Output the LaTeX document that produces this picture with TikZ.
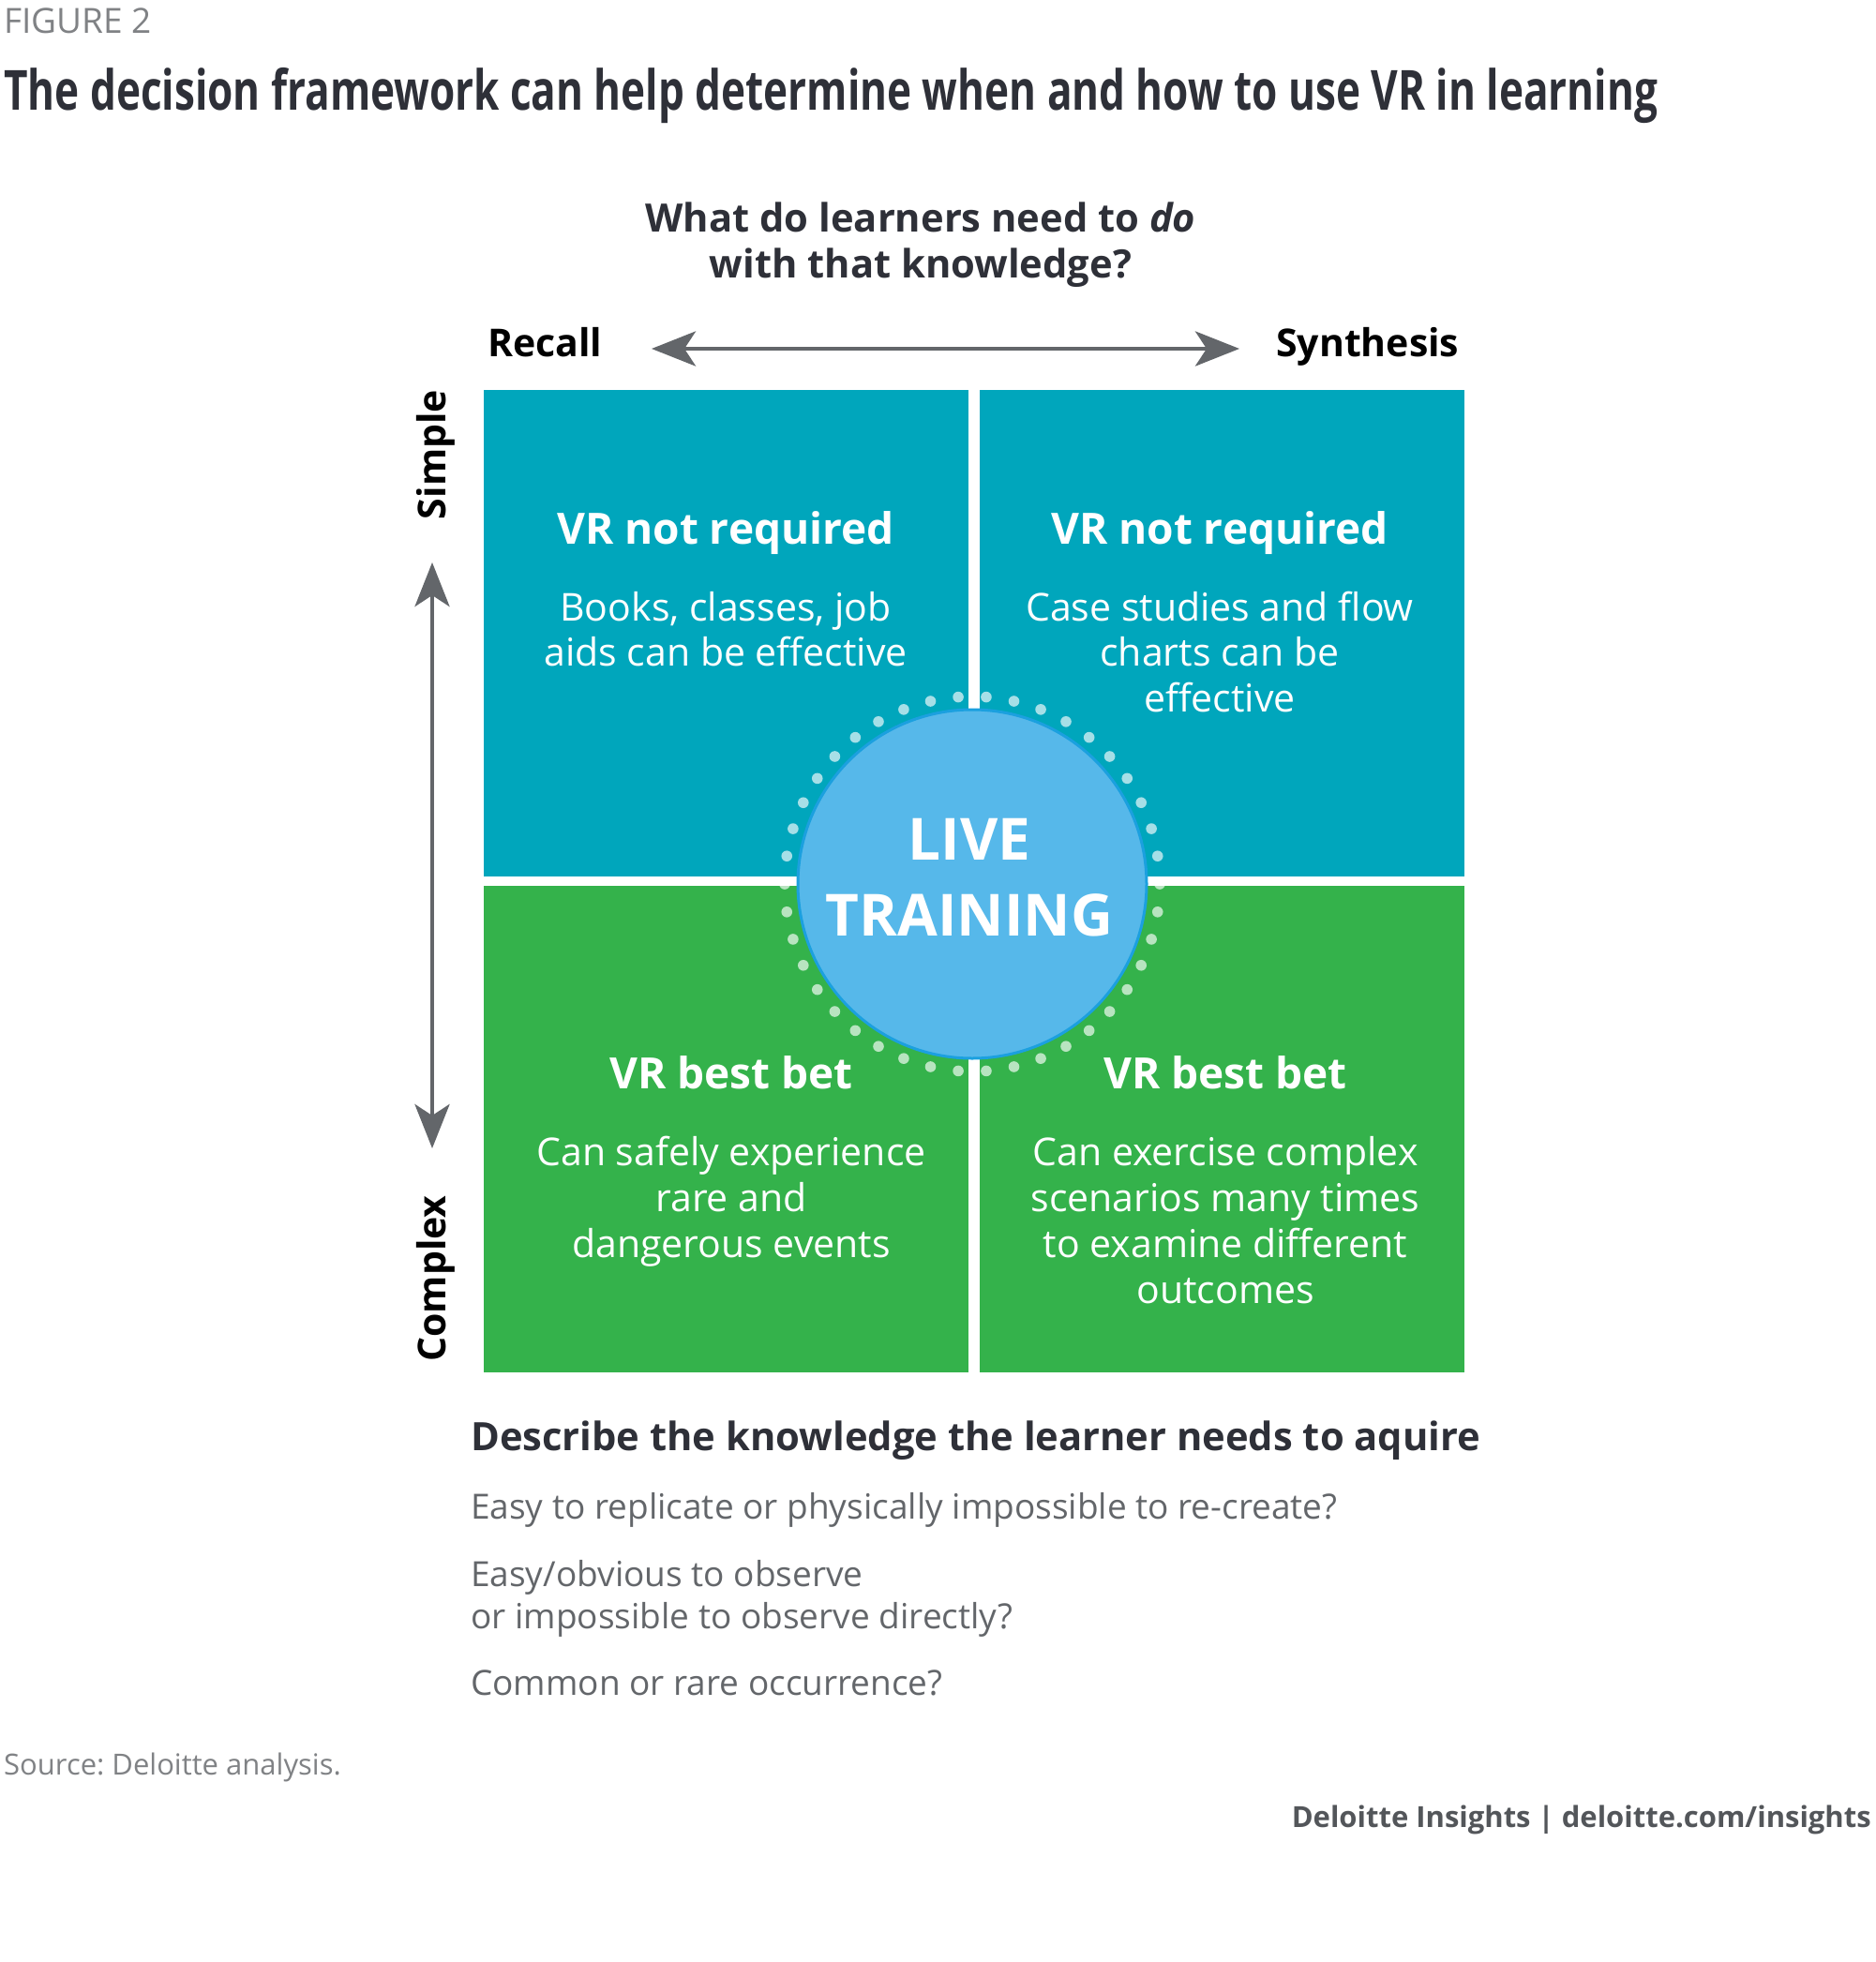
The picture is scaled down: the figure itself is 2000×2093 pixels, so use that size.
\documentclass[tikz,border=0pt]{standalone}
\usepackage{fontspec}
\setmainfont{Open Sans}
\usepackage{graphicx}
\usetikzlibrary{arrows.meta}
\frenchspacing
\definecolor{dteal}{HTML}{00A6BC}
\definecolor{dgreen}{HTML}{34B24B}
\definecolor{dcirc}{HTML}{56B8EA}
\definecolor{dcircline}{HTML}{1BA0DF}
\definecolor{ddark}{HTML}{2E3038}
\definecolor{dgray}{HTML}{63666A}
\definecolor{dlgray}{HTML}{808285}
\definecolor{dfoot}{HTML}{53565A}
\definecolor{darrow}{HTML}{63666A}
\tikzset{
  txt/.style={inner sep=0, anchor=base},
  txtl/.style={inner sep=0, anchor=base west},
  quad/.style={rectangle, inner sep=0, minimum width=517, minimum height=519, draw=none},
  boxtitle/.style={txt, text=white, font=\fontsize{46}{54}\selectfont\bfseries},
  boxbody/.style={txt, text=white, font=\fontsize{41}{48}\selectfont},
  axislabel/.style={txt, text=black, font=\fontsize{41}{48}\selectfont\bfseries},
  axisarrow/.style={draw=darrow, line width=4.5pt,
    {Stealth[length=47pt,width=37pt,inset=12pt]}-{Stealth[length=47pt,width=37pt,inset=12pt]}},
  dotstyle/.style={fill=white, fill opacity=0.65},
  qtext/.style={txtl, text=dgray, font=\fontsize{37}{45}\selectfont},
  headtext/.style={text=ddark, font=\fontsize{41.7}{50}\selectfont\bfseries},
}
\begin{document}
\begin{tikzpicture}[x=1pt,y=-1pt]
\useasboundingbox (0,0) rectangle (2000,2093);
\fill[white] (0,0) rectangle (2000,2093);

% header
\node[txtl, text=dlgray, font=\fontsize{37}{46}\selectfont] (fig) at (4,36) {FIGURE 2};
\node[txtl, text=ddark, font=\fontsize{59}{70}\selectfont\bfseries] (title) at (4,117)
  {\resizebox{1764pt}{\height}{The decision framework can help determine when and how to use VR in learning}};

% question
\node[txt, headtext] (q1) at (982,247) {What do learners need to \textit{do}};
\node[txt, headtext] (q2) at (982,296) {with that knowledge?};

% axis labels
\node[axislabel, anchor=base west] (recall) at (520,380) {Recall};
\node[axislabel, anchor=base west] (synth) at (1361,380) {Synthesis};
\node[axislabel, rotate=90] (simple) at (475,485) {Simple};
\node[axislabel, rotate=90] (complex) at (475,1364) {Complex};

\coordinate (hl) at (695,372);
\coordinate (hr) at (1322,372);
\coordinate (vt) at (461,600);
\coordinate (vb) at (461,1225);
\draw[axisarrow] (hl) -- (hr);
\draw[axisarrow] (vt) -- (vb);

% quadrants
\node[quad, fill=dteal] (tl) at (774.5,675.5) {};
\node[quad, fill=dteal] (tr) at (1303,675.5) {};
\node[quad, fill=dgreen] (bl) at (774.5,1204) {};
\node[quad, fill=dgreen] (br) at (1303,1204) {};

% dotted ring and circle
\coordinate (cc) at (1037,943);
\foreach \k in {0,...,41}{
  \fill[dotstyle] (cc) ++({94.2857+\k*8.5714}:200) circle (5.8);
}
\node[circle, inner sep=0, minimum size=372, fill=dcirc, draw=dcircline, line width=3pt] (live) at (cc) {};
\node[txt, text=white, font=\fontsize{62}{76}\selectfont\bfseries] (l1) at (1034,917) {LIVE};
\node[txt, text=white, font=\fontsize{62}{76}\selectfont\bfseries] (l2) at (1034,998) {TRAINING};

% quadrant texts
\node[boxtitle] (tlt) at (774,580) {VR not required};
\node[boxbody] (tlb1) at (774,662) {Books, classes, job};
\node[boxbody] (tlb2) at (774,710) {aids can be effective};

\node[boxtitle] (trt) at (1301,580) {VR not required};
\node[boxbody] (trb1) at (1301,662) {Case studies and flow};
\node[boxbody] (trb2) at (1301,710) {charts can be};
\node[boxbody] (trb3) at (1301,759) {effective};

\node[boxtitle] (blt) at (780,1161) {VR best bet};
\node[boxbody] (blb1) at (780,1243) {Can safely experience};
\node[boxbody] (blb2) at (780,1292) {rare and};
\node[boxbody] (blb3) at (780,1341) {dangerous events};

\node[boxtitle] (brt) at (1307,1161) {VR best bet};
\node[boxbody] (brb1) at (1307,1243) {Can exercise complex};
\node[boxbody] (brb2) at (1307,1292) {scenarios many times};
\node[boxbody] (brb3) at (1307,1341) {to examine different};
\node[boxbody] (brb4) at (1307,1390) {outcomes};

% bottom block
\node[txtl, headtext] (desc) at (502,1547) {Describe the knowledge the learner needs to aquire};
\node[qtext] (d1) at (502,1620) {Easy to replicate or physically impossible to re-create?};
\node[qtext] (d2) at (502,1692) {Easy/obvious to observe};
\node[qtext] (d3) at (502,1737) {or impossible to observe directly?};
\node[qtext] (d4) at (502,1808) {Common or rare occurrence?};

% footer
\node[txtl, text=dlgray, font=\fontsize{31}{40}\selectfont] (src) at (4,1893) {Source: Deloitte analysis.};
\node[txt, anchor=base east, text=dfoot, font=\fontsize{31}{40}\selectfont\bfseries] (foot) at (1996,1949) {Deloitte Insights | deloitte.com/insights};
\end{tikzpicture}
\end{document}
